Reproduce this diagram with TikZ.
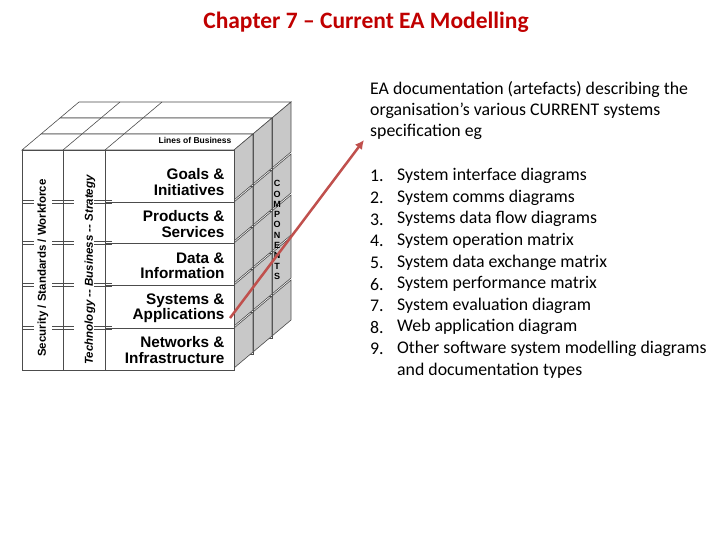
\documentclass[tikz,border=0pt]{standalone}
\usepackage{fontspec}
\usetikzlibrary{arrows.meta}
\setmainfont{Carlito}
\newfontfamily\arialf{Liberation Sans}
\definecolor{titlered}{HTML}{C00000}
\definecolor{arrowred}{HTML}{C0504D}
\definecolor{sidegray}{HTML}{C8C8C8}
\begin{document}
\begin{tikzpicture}[x=1pt,y=-1pt,
  face/.style={draw=black!70,fill=white,line width=0.6pt},
  side/.style={draw=black!70,fill=sidegray,line width=0.6pt},
  rowlab/.style={font=\arialf\bfseries\fontsize{15.3}{15.5}\selectfont,align=right,anchor=east},
  item/.style={anchor=west,inner sep=0pt,font=\fontsize{17.8}{20}\selectfont}]
\useasboundingbox (0,0) rectangle (720,540);
\def\dx{19}\def\dy{-16}
\foreach \k in {2,1,0}{
  \begin{scope}[shift={(\k*\dx,\k*\dy)}]
    \draw[face] (22,150) -- (22+\dx,150+\dy) -- (234+\dx,150+\dy) -- (234,150) -- cycle;
    \foreach \c in {63,105}{\draw[black!70,line width=0.6pt] (\c,150) -- (\c+\dx,150+\dy);}
    \foreach \a/\b in {150/202,202/243,243/285,285/328,328/370}{
      \draw[side] (234,\a) -- (234+\dx,\a+\dy) -- (234+\dx,\b+\dy-2) -- (234,\b-2) -- cycle;
    }
    \draw[face] (22,150) rectangle (234,370);
    \foreach \c in {63,105}{\draw[black!70,line width=0.6pt] (\c,150) -- (\c,370);}
    \foreach \r in {202,243,285,328}{
      \draw[black!70,line width=0.6pt] (105,\r) -- (234,\r);
      \foreach \s/\e in {22/34,52/74,94/112}{\draw[black!70,line width=0.5pt] (\s,\r-1.5) -- (\e,\r-1.5) (\s,\r+1.5) -- (\e,\r+1.5);}
    }
  \end{scope}
}
\node[font=\arialf\bfseries\fontsize{8.5}{9}\selectfont] (lob) at (195,140) {Lines of Business};
\node[font=\arialf\bfseries\fontsize{9}{10.3}\selectfont,align=center] (comp) at (277,230) {C\\O\\M\\P\\O\\N\\E\\N\\T\\S};
\node[rowlab] (r1) at (228,182) {Goals \&\\Initiatives};
\node[rowlab] (r2) at (228,224) {Products \&\\Services};
\node[rowlab] (r3) at (228,266) {Data \&\\Information};
\node[rowlab] (r4) at (228,308) {Systems \&\\Applications};
\node[rowlab] (r5) at (228,350) {Networks \&\\Infrastructure};
\node[rotate=90,font=\arialf\bfseries\fontsize{11.5}{12}\selectfont] (c1) at (43,268) {Security / Standards / Workforce};
\node[rotate=90,font=\arialf\bfseries\itshape\fontsize{11.5}{12}\selectfont] (c2) at (90,270) {Technology -- Business -- Strategy};
\node[font=\bfseries\fontsize{23.5}{26}\selectfont,text=titlered] (title) at (366,22) {Chapter 7 -- Current EA Modelling};
\node[anchor=north west,align=left,font=\fontsize{17.8}{21}\selectfont,inner sep=0pt] (para) at (370,81) {EA documentation (artefacts) describing the\\organisation's various CURRENT systems\\specification eg};
\coordinate (st) at (230,318);
\coordinate (tipc) at (364,140);
\draw[arrowred,line width=2.5pt,-{Latex[length=9pt,width=9pt]}] (st) -- (tipc);
\foreach \n/\t [count=\i] in {1/System interface diagrams,2/System comms diagrams,3/Systems data flow diagrams,4/System operation matrix,5/System data exchange matrix,6/System performance matrix,7/System evaluation diagram,8/Web application diagram,9/Other software system modelling diagrams}{
  \node[item] (n\i) at (370,154.5+21.6*\i) {\n.};
  \node[item] (t\i) at (397,154.5+21.6*\i) {\t};
}
\node[item] (t10) at (397,370.5) {and documentation types};
\end{tikzpicture}
\end{document}
